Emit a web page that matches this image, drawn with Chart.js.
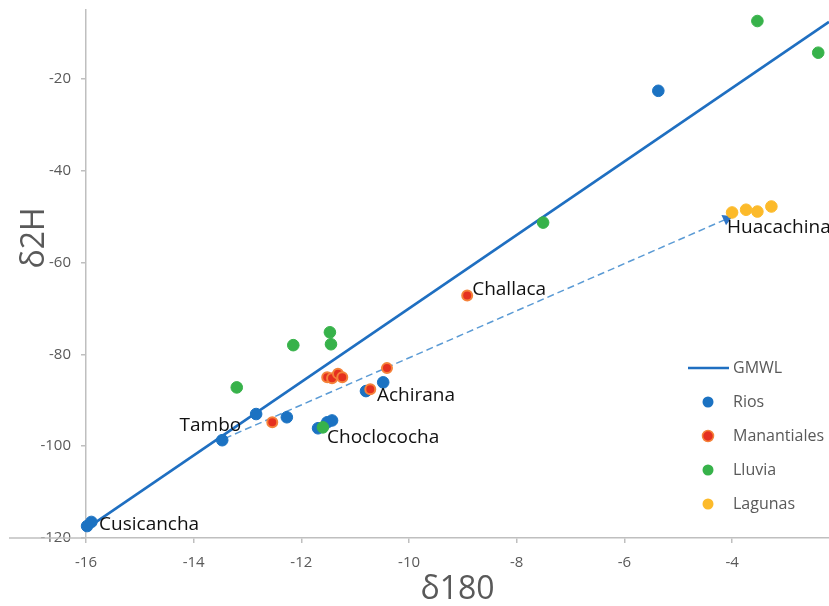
<!DOCTYPE html>
<html>
<head>
<meta charset="utf-8">
<script src="https://cdn.jsdelivr.net/npm/chart.js@4.4.1/dist/chart.umd.min.js"></script>
<style>
  html, body { margin: 0; padding: 0; background: #fff; }
  #wrap { position: relative; width: 829px; height: 606px; }
</style>
</head>
<body>
<div id="wrap"><canvas id="chart" width="829" height="606"></canvas></div>
<script>
// ─── Data ───
const riosX = [-15.98, -15.9, -13.47, -12.84, -12.27, -11.69, -11.52, -11.43, -10.8, -10.48, -5.37];
const riosY = [-117.4, -116.5, -98.7, -93.0, -93.7, -96.1, -94.8, -94.4, -88.0, -86.1, -22.6];
const manantialesX = [-12.54, -11.52, -11.43, -11.32, -11.24, -10.72, -10.41, -8.92];
const manantialesY = [-94.8, -85.0, -85.2, -84.2, -85.0, -87.6, -83.0, -67.2];
const lluviaX = [-13.2, -12.15, -11.47, -11.45, -11.6, -7.51, -3.53, -2.4];
const lluviaY = [-87.2, -78.0, -75.2, -77.8, -95.9, -51.3, -7.4, -14.3];
const lagunasX = [-4.0, -3.74, -3.53, -3.27];
const lagunasY = [-49.1, -48.5, -48.9, -47.8];
const gmwlX = [-16, -2.2];
const gmwlY = [-118, -7.6];
const trendX = [-13.42, -4.1];
const trendY = [-98.3, -50.5];
const siteNames = ['Cusicancha', 'Tambo', 'Choclococha', 'Achirana', 'Challaca', 'Huacachina'];
const siteX = [-15.98, -13.47, -11.69, -10.8, -8.92, -4.0];
const siteY = [-117.4, -98.7, -96.1, -88.0, -67.2, -49.1];
const xTickValues = [-16, -14, -12, -10, -8, -6, -4];
const yTickValues = [-120, -100, -80, -60, -40, -20];
const xTitle = 'δ180';
const yTitle = 'δ2H';

// ─── Styles ───
const AXIS_GRAY = '#bfbfbf';
const TEXT_GRAY = '#595959';
const FONT = "'Open Sans', sans-serif";
// label offsets from the anchor point: dx, dy, textAlign
const siteLabelOffsets = [[12, -1, 'left'], [19, -15, 'right'], [9, 9, 'left'], [11, 5, 'left'], [5, -6, 'left'], [-5, 15, 'left']];

const toPoints = (xs, ys) => xs.map((x, i) => ({ x, y: ys[i] }));

function scatterSet(label, xs, ys, fill, border, order) {
    return {
        type: 'scatter',
        label,
        data: toPoints(xs, ys),
        backgroundColor: fill,
        borderColor: border || fill,
        borderWidth: border ? 2 : 1,
        pointRadius: border ? 5 : 5.8,
        clip: false,
        order,
        showInLegend: true
    };
}

// ─── Plugin: site labels, y title, legend, axis stub ───
const annotations = {
    id: 'annotations',
    afterDraw(chart) {
        const { ctx, scales: { x, y } } = chart;
        ctx.save();

        // x axis line continues left of the y axis
        ctx.strokeStyle = AXIS_GRAY;
        ctx.lineWidth = 1.5;
        ctx.beginPath();
        ctx.moveTo(9, y.getPixelForValue(-120));
        ctx.lineTo(x.left, y.getPixelForValue(-120));
        ctx.stroke();

        // site names
        ctx.fillStyle = '#111';
        ctx.font = '19px ' + FONT;
        ctx.textBaseline = 'middle';
        siteNames.forEach((name, i) => {
            const [dx, dy, align] = siteLabelOffsets[i];
            ctx.textAlign = align;
            ctx.fillText(name, x.getPixelForValue(siteX[i]) + dx, y.getPixelForValue(siteY[i]) + dy);
        });

        // y axis title
        ctx.save();
        ctx.translate(35, 238);
        ctx.rotate(-Math.PI / 2);
        ctx.fillStyle = TEXT_GRAY;
        ctx.font = '32px ' + FONT;
        ctx.textAlign = 'center';
        ctx.fillText(yTitle, 0, 0);
        ctx.restore();

        // legend
        const items = chart.data.datasets.filter(d => d.showInLegend);
        ctx.font = '16px ' + FONT;
        ctx.textAlign = 'left';
        items.forEach((d, i) => {
            const ry = 368 + i * 34;
            if (d.type === 'line') {
                ctx.strokeStyle = d.borderColor;
                ctx.lineWidth = 2.5;
                ctx.beginPath();
                ctx.moveTo(688, ry);
                ctx.lineTo(729, ry);
                ctx.stroke();
            } else {
                ctx.fillStyle = d.backgroundColor;
                ctx.beginPath();
                ctx.arc(708, ry, 5.5, 0, Math.PI * 2);
                ctx.fill();
                if (d.borderWidth > 1) {
                    ctx.strokeStyle = d.borderColor;
                    ctx.lineWidth = 1.5;
                    ctx.stroke();
                }
            }
            ctx.fillStyle = TEXT_GRAY;
            ctx.fillText(d.label, 733, ry);
        });
        ctx.restore();
    }
};

new Chart(document.getElementById('chart'), {
    data: {
        datasets: [
            {
                type: 'line',
                label: 'GMWL',
                data: toPoints(gmwlX, gmwlY),
                borderColor: '#1f6fc1',
                borderWidth: 2.6,
                pointRadius: 0,
                fill: false,
                order: 6,
                showInLegend: true
            },
            {
                type: 'line',
                label: 'trend',
                data: toPoints(trendX, trendY),
                borderColor: '#5b9bd5',
                borderWidth: 1.5,
                borderDash: [7, 4],
                pointRadius: [0, 5],
                pointStyle: 'triangle',
                pointRotation: [0, 66],
                pointBackgroundColor: '#2e75c8',
                pointBorderColor: '#2e75c8',
                fill: false,
                order: 5
            },
            scatterSet('Rios', riosX, riosY, '#1b72c2', null, 4),
            scatterSet('Manantiales', manantialesX, manantialesY, '#e5301f', '#f5823a', 3),
            scatterSet('Lluvia', lluviaX, lluviaY, '#37b24a', null, 2),
            scatterSet('Lagunas', lagunasX, lagunasY, '#fcba2a', null, 1)
        ]
    },
    options: {
        responsive: false,
        animation: false,
        layout: { autoPadding: false, padding: { top: 10, right: 0, left: 0, bottom: 0 } },
        plugins: {
            legend: { display: false },
            tooltip: { enabled: false }
        },
        scales: {
            x: {
                type: 'linear',
                min: -16,
                max: -2.2,
                afterBuildTicks: s => { s.ticks = xTickValues.map(v => ({ value: v })); },
                afterFit: s => { s.height = 68; s.paddingLeft = 0; s.paddingRight = 0; },
                grid: { display: true, drawOnChartArea: false, drawTicks: true, tickLength: 5, color: AXIS_GRAY, lineWidth: 1.5 },
                border: { color: AXIS_GRAY, width: 1.5 },
                ticks: { color: TEXT_GRAY, font: { family: FONT, size: 15 }, padding: 11, maxRotation: 0 },
                title: {
                    display: true,
                    text: xTitle,
                    color: TEXT_GRAY,
                    font: { family: FONT, size: 32, lineHeight: 1 },
                    padding: { top: 0, bottom: 0 }
                }
            },
            y: {
                type: 'linear',
                min: -120,
                max: -5,
                afterBuildTicks: s => { s.ticks = yTickValues.map(v => ({ value: v })); },
                afterFit: s => { s.width = 86; s.paddingTop = 0; s.paddingBottom = 0; },
                grid: { display: true, drawOnChartArea: false, drawTicks: true, tickLength: 5, color: AXIS_GRAY, lineWidth: 1.5 },
                border: { color: AXIS_GRAY, width: 1.5 },
                ticks: { color: TEXT_GRAY, font: { family: FONT, size: 15 }, padding: 10 }
            }
        }
    },
    plugins: [annotations]
});
</script>
</body>
</html>
